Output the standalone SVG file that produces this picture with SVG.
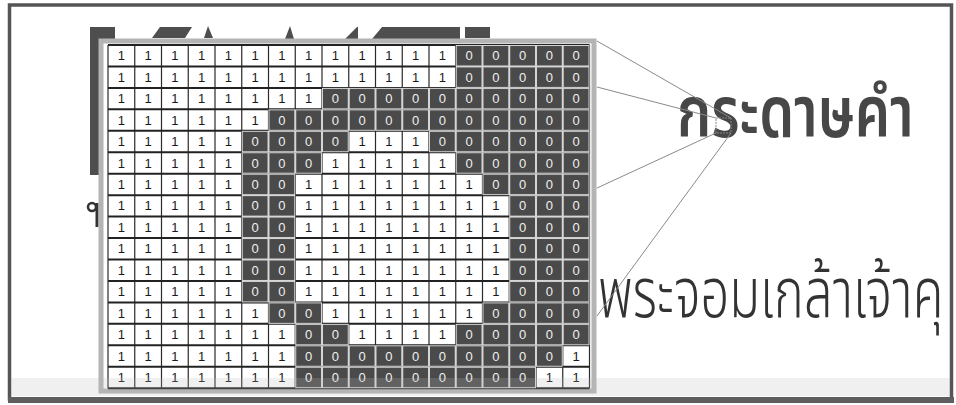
<svg xmlns="http://www.w3.org/2000/svg" width="956" height="405" viewBox="0 0 956 405">
<style>
.one{font-family:"Liberation Sans",Arial,sans-serif;font-size:13px;fill:#1a1a1a;text-anchor:middle}
.zero{font-family:"Liberation Sans",Arial,sans-serif;font-size:13px;fill:#f0f0f0;text-anchor:middle}
.gv{stroke:#2a2a2a;stroke-width:1.2;fill:none}
.gh{stroke:#222;stroke-width:2;fill:none}
.dk{fill:url(#cell0)}
.conn{stroke:#8a8a8a;stroke-width:1;fill:none}
.th1{font-family:"Noto Sans Thai","Noto Sans Thai Looped",Loma,Garuda,"DejaVu Sans",sans-serif;font-size:72px;fill:#474747;font-weight:600}
.th2{font-family:"Noto Sans Thai","Noto Sans Thai Looped",Loma,Garuda,"DejaVu Sans",sans-serif;font-size:69px;fill:#333;font-weight:300}
</style>
<defs>
<pattern id="cell0" patternUnits="userSpaceOnUse" x="108" y="45" width="26.75" height="21.45">
<rect x="0" y="0" width="26.75" height="21.45" fill="#d6d6d6"/>
<rect x="1" y="1" width="24.75" height="19.45" fill="#4a4a4a"/>
</pattern>
</defs>

<!-- page border -->
<rect x="9.5" y="5" width="942" height="394" fill="#fff" stroke="#555" stroke-width="3.5"/>
<rect x="8" y="397" width="946" height="6" fill="#5e5e5e"/>

<!-- occluded background title fragments -->
<g id="backdrop" fill="#4e4e4e">
<polygon points="90,27 115,27 115,40 100,40 100,175 90,175"/>
<polygon points="160,27 192,27 185,38 152,38"/>
<polygon points="208,26 213,38 204,38"/>
<polygon points="290,26 294,39 285,39"/>
<polygon points="345,39 357,27 358,27 358,39"/>
<polygon points="382,27 460,27 460,39 372,39"/>
<rect x="465" y="27" width="25" height="11"/>
<circle cx="92" cy="207" r="4" fill="none" stroke="#333" stroke-width="2.5"/>
<rect x="95.5" y="203" width="3" height="24" fill="#333"/>
</g>

<!-- Thai texts -->
<g id="text-title" transform="translate(677,137) scale(0.775,1)">
<text class="th1" x="0" y="0">กระดาษคำ</text>
</g>
<g id="text-sub" transform="translate(598,317) scale(0.732,1)">
<text class="th2" x="0" y="0">พระจอมเกล้าเจ้าคุ</text>
</g>

<!-- grid node -->
<g id="grid">
<rect x="101" y="41" width="493" height="350" fill="#fff" stroke="#b4b4b4" stroke-width="5"/>
<path class="gv" d="M108 45V388.2M134.75 45V388.2M161.5 45V388.2M188.25 45V388.2M215 45V388.2M241.75 45V388.2M268.5 45V388.2M295.25 45V388.2M322 45V388.2M348.75 45V388.2M375.5 45V388.2M402.25 45V388.2M429 45V388.2M455.75 45V388.2M482.5 45V388.2M509.25 45V388.2M536 45V388.2M562.75 45V388.2M589.5 45V388.2"/>
<path class="gh" d="M108 45H589.5M108 66.45H589.5M108 87.9H589.5M108 109.35H589.5M108 130.8H589.5M108 152.25H589.5M108 173.7H589.5M108 195.15H589.5M108 216.6H589.5M108 238.05H589.5M108 259.5H589.5M108 280.95H589.5M108 302.4H589.5M108 323.85H589.5M108 345.3H589.5M108 366.75H589.5M108 388.2H589.5"/>
<g id="dark-cells">
<rect class="dk" x="455.75" y="45" width="133.75" height="42.9"/>
<rect class="dk" x="322" y="87.9" width="267.5" height="21.45"/>
<rect class="dk" x="268.5" y="109.35" width="321" height="21.45"/>
<rect class="dk" x="241.75" y="130.8" width="107" height="21.45"/>
<rect class="dk" x="429" y="130.8" width="160.5" height="21.45"/>
<rect class="dk" x="241.75" y="152.25" width="80.25" height="21.45"/>
<rect class="dk" x="455.75" y="152.25" width="133.75" height="21.45"/>
<rect class="dk" x="241.75" y="173.7" width="53.5" height="128.7"/>
<rect class="dk" x="482.5" y="173.7" width="107" height="21.45"/>
<rect class="dk" x="509.25" y="195.15" width="80.25" height="107.25"/>
<rect class="dk" x="268.5" y="302.4" width="53.5" height="21.45"/>
<rect class="dk" x="482.5" y="302.4" width="107" height="21.45"/>
<rect class="dk" x="295.25" y="323.85" width="53.5" height="21.45"/>
<rect class="dk" x="455.75" y="323.85" width="133.75" height="21.45"/>
<rect class="dk" x="295.25" y="345.3" width="267.5" height="21.45"/>
<rect class="dk" x="295.25" y="366.75" width="240.75" height="21.45"/>
</g>
<g id="cell-values">
<text class="one" x="121.4 148.1 174.9 201.6 228.4 255.1 281.9 308.6 335.4 362.1 388.9 415.6 442.4" y="60.3">1111111111111</text>
<text class="zero" x="469.1 495.9 522.6 549.4 576.1" y="60.3">00000</text>
<text class="one" x="121.4 148.1 174.9 201.6 228.4 255.1 281.9 308.6 335.4 362.1 388.9 415.6 442.4" y="81.75">1111111111111</text>
<text class="zero" x="469.1 495.9 522.6 549.4 576.1" y="81.75">00000</text>
<text class="one" x="121.4 148.1 174.9 201.6 228.4 255.1 281.9 308.6" y="103.2">11111111</text>
<text class="zero" x="335.4 362.1 388.9 415.6 442.4 469.1 495.9 522.6 549.4 576.1" y="103.2">0000000000</text>
<text class="one" x="121.4 148.1 174.9 201.6 228.4 255.1" y="124.65">111111</text>
<text class="zero" x="281.9 308.6 335.4 362.1 388.9 415.6 442.4 469.1 495.9 522.6 549.4 576.1" y="124.65">000000000000</text>
<text class="one" x="121.4 148.1 174.9 201.6 228.4" y="146.1">11111</text>
<text class="zero" x="255.1 281.9 308.6 335.4" y="146.1">0000</text>
<text class="one" x="362.1 388.9 415.6" y="146.1">111</text>
<text class="zero" x="442.4 469.1 495.9 522.6 549.4 576.1" y="146.1">000000</text>
<text class="one" x="121.4 148.1 174.9 201.6 228.4" y="167.55">11111</text>
<text class="zero" x="255.1 281.9 308.6" y="167.55">000</text>
<text class="one" x="335.4 362.1 388.9 415.6 442.4" y="167.55">11111</text>
<text class="zero" x="469.1 495.9 522.6 549.4 576.1" y="167.55">00000</text>
<text class="one" x="121.4 148.1 174.9 201.6 228.4" y="189">11111</text>
<text class="zero" x="255.1 281.9" y="189">00</text>
<text class="one" x="308.6 335.4 362.1 388.9 415.6 442.4 469.1" y="189">1111111</text>
<text class="zero" x="495.9 522.6 549.4 576.1" y="189">0000</text>
<text class="one" x="121.4 148.1 174.9 201.6 228.4" y="210.45">11111</text>
<text class="zero" x="255.1 281.9" y="210.45">00</text>
<text class="one" x="308.6 335.4 362.1 388.9 415.6 442.4 469.1 495.9" y="210.45">11111111</text>
<text class="zero" x="522.6 549.4 576.1" y="210.45">000</text>
<text class="one" x="121.4 148.1 174.9 201.6 228.4" y="231.9">11111</text>
<text class="zero" x="255.1 281.9" y="231.9">00</text>
<text class="one" x="308.6 335.4 362.1 388.9 415.6 442.4 469.1 495.9" y="231.9">11111111</text>
<text class="zero" x="522.6 549.4 576.1" y="231.9">000</text>
<text class="one" x="121.4 148.1 174.9 201.6 228.4" y="253.35">11111</text>
<text class="zero" x="255.1 281.9" y="253.35">00</text>
<text class="one" x="308.6 335.4 362.1 388.9 415.6 442.4 469.1 495.9" y="253.35">11111111</text>
<text class="zero" x="522.6 549.4 576.1" y="253.35">000</text>
<text class="one" x="121.4 148.1 174.9 201.6 228.4" y="274.8">11111</text>
<text class="zero" x="255.1 281.9" y="274.8">00</text>
<text class="one" x="308.6 335.4 362.1 388.9 415.6 442.4 469.1 495.9" y="274.8">11111111</text>
<text class="zero" x="522.6 549.4 576.1" y="274.8">000</text>
<text class="one" x="121.4 148.1 174.9 201.6 228.4" y="296.25">11111</text>
<text class="zero" x="255.1 281.9" y="296.25">00</text>
<text class="one" x="308.6 335.4 362.1 388.9 415.6 442.4 469.1 495.9" y="296.25">11111111</text>
<text class="zero" x="522.6 549.4 576.1" y="296.25">000</text>
<text class="one" x="121.4 148.1 174.9 201.6 228.4 255.1" y="317.7">111111</text>
<text class="zero" x="281.9 308.6" y="317.7">00</text>
<text class="one" x="335.4 362.1 388.9 415.6 442.4 469.1" y="317.7">111111</text>
<text class="zero" x="495.9 522.6 549.4 576.1" y="317.7">0000</text>
<text class="one" x="121.4 148.1 174.9 201.6 228.4 255.1 281.9" y="339.15">1111111</text>
<text class="zero" x="308.6 335.4" y="339.15">00</text>
<text class="one" x="362.1 388.9 415.6 442.4" y="339.15">1111</text>
<text class="zero" x="469.1 495.9 522.6 549.4 576.1" y="339.15">00000</text>
<text class="one" x="121.4 148.1 174.9 201.6 228.4 255.1 281.9" y="360.6">1111111</text>
<text class="zero" x="308.6 335.4 362.1 388.9 415.6 442.4 469.1 495.9 522.6 549.4" y="360.6">0000000000</text>
<text class="one" x="576.1" y="360.6">1</text>
<text class="one" x="121.4 148.1 174.9 201.6 228.4 255.1 281.9" y="382.05">1111111</text>
<text class="zero" x="308.6 335.4 362.1 388.9 415.6 442.4 469.1 495.9 522.6" y="382.05">000000000</text>
<text class="one" x="549.4 576.1" y="382.05">11</text>
</g>
</g>

<!-- magnifier connectors -->
<g id="connectors">
<rect x="716" y="118" width="15" height="15" fill="none" stroke="#888" stroke-width="1" stroke-dasharray="2,1"/>
<line class="conn" x1="597" y1="41" x2="731" y2="118"/>
<line class="conn" x1="597" y1="87" x2="716" y2="118"/>
<line class="conn" x1="597" y1="188" x2="716" y2="133"/>
<line class="conn" x1="597" y1="316" x2="731" y2="133"/>
</g>

<!-- scan shading band -->
<rect x="11" y="378" width="939" height="18" fill="#bbb" opacity="0.22"/>
</svg>
